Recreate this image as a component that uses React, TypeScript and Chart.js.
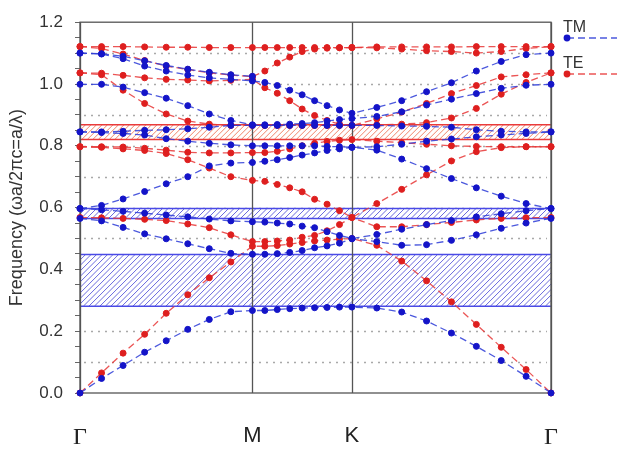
import React, { useEffect, useRef } from 'react';
import { Chart, registerables } from 'chart.js';

Chart.register(...registerables);

// k-path positions (Γ → M → K → Γ, hexagonal lattice, units of 2π/a)
const kPath = [
  0, 0.0722, 0.1443, 0.2165, 0.2887, 0.3609, 0.433, 0.5052, 0.5774,
  0.619, 0.6607, 0.7024, 0.744, 0.7857, 0.8274, 0.869, 0.9107,
  0.994, 1.0774, 1.1607, 1.244, 1.3274, 1.4107, 1.494, 1.5774,
];
const symLabels = ['Γ', 'M', 'K', 'Γ'];
const symPos = [0, 0.5774, 0.9107, 1.5774];
const yGridLines = [0.1, 0.2, 0.3, 0.4, 0.5, 0.6, 0.7, 0.8, 0.9, 1.0, 1.1];

// TM bands (blue)
const tm1 = [0, 0.047, 0.089, 0.132, 0.169, 0.206, 0.238, 0.263, 0.267, 0.267, 0.27, 0.273, 0.275, 0.276, 0.277, 0.278, 0.278, 0.275, 0.262, 0.233, 0.194, 0.151, 0.105, 0.054, 0];
const tm2 = [0.565, 0.557, 0.536, 0.515, 0.499, 0.483, 0.467, 0.452, 0.449, 0.449, 0.451, 0.455, 0.461, 0.47, 0.476, 0.485, 0.499, 0.49, 0.478, 0.48, 0.494, 0.512, 0.533, 0.55, 0.565];
const tm3 = [0.597, 0.593, 0.588, 0.582, 0.576, 0.57, 0.563, 0.557, 0.554, 0.553, 0.55, 0.547, 0.54, 0.535, 0.522, 0.51, 0.5, 0.513, 0.53, 0.545, 0.558, 0.57, 0.58, 0.59, 0.597];
const tm4 = [0.597, 0.607, 0.628, 0.652, 0.677, 0.7, 0.735, 0.744, 0.746, 0.75, 0.755, 0.762, 0.77, 0.777, 0.785, 0.79, 0.795, 0.786, 0.757, 0.726, 0.694, 0.664, 0.637, 0.613, 0.597];
const tm5 = [0.845, 0.843, 0.84, 0.835, 0.823, 0.815, 0.808, 0.803, 0.8, 0.8, 0.8, 0.8, 0.8, 0.8, 0.798, 0.797, 0.795, 0.797, 0.805, 0.815, 0.822, 0.829, 0.835, 0.84, 0.845];
const tm6 = [0.845, 0.845, 0.847, 0.85, 0.852, 0.855, 0.86, 0.866, 0.866, 0.866, 0.866, 0.866, 0.866, 0.866, 0.866, 0.866, 0.866, 0.866, 0.864, 0.863, 0.86, 0.852, 0.847, 0.845, 0.845];
const tm7 = [0.999, 0.999, 0.99, 0.972, 0.954, 0.93, 0.903, 0.882, 0.868, 0.868, 0.869, 0.87, 0.872, 0.875, 0.88, 0.885, 0.888, 0.895, 0.91, 0.932, 0.951, 0.969, 0.986, 0.996, 0.999];
const tm8 = [1.1, 1.097, 1.082, 1.058, 1.042, 1.029, 1.02, 1.015, 1.01, 1.005, 0.995, 0.98, 0.965, 0.946, 0.93, 0.916, 0.905, 0.924, 0.946, 0.975, 1.004, 1.042, 1.073, 1.095, 1.1];
const tm9 = [1.1, 1.098, 1.09, 1.075, 1.06, 1.048, 1.038, 1.03, 1.025, null, null, null, null, null, null, null, null, null, null, null, null, null, null, null, null];

// TE bands (red)
const te1 = [0, 0.065, 0.129, 0.19, 0.258, 0.318, 0.373, 0.424, 0.475, 0.475, 0.477, 0.482, 0.487, 0.492, 0.495, 0.498, 0.5, 0.478, 0.427, 0.363, 0.295, 0.222, 0.148, 0.076, 0];
const te2 = [0.568, 0.567, 0.565, 0.562, 0.558, 0.547, 0.535, 0.512, 0.49, 0.49, 0.492, 0.495, 0.504, 0.51, 0.525, 0.545, 0.568, 0.538, 0.538, 0.545, 0.552, 0.56, 0.565, 0.567, 0.568];
const te3 = [0.797, 0.795, 0.79, 0.785, 0.775, 0.755, 0.728, 0.7, 0.688, 0.685, 0.675, 0.664, 0.651, 0.627, 0.611, 0.59, 0.568, 0.613, 0.659, 0.706, 0.751, 0.781, 0.794, 0.797, 0.797];
const te4 = [0.797, 0.797, 0.796, 0.792, 0.786, 0.779, 0.777, 0.777, 0.778, 0.778, 0.782, 0.79, 0.8, 0.808, 0.814, 0.818, 0.82, 0.815, 0.81, 0.805, 0.8, 0.798, 0.797, 0.797, 0.797];
const te5 = [1.036, 1.03, 0.98, 0.937, 0.903, 0.88, 0.87, 0.866, 0.866, 0.866, 0.866, 0.866, 0.866, 0.866, 0.866, 0.866, 0.866, 0.868, 0.87, 0.875, 0.89, 0.921, 0.967, 1.005, 1.036];
const te6 = [1.036, 1.035, 1.028, 1.02, 1.015, 1.013, 1.01, 1.012, 1.015, 0.988, 0.97, 0.946, 0.919, 0.898, 0.882, 0.87, 0.866, 0.887, 0.909, 0.937, 0.969, 0.995, 1.023, 1.03, 1.036];
const te7 = [1.121, 1.115, 1.097, 1.076, 1.058, 1.047, 1.036, 1.029, 1.024, 1.042, 1.068, 1.087, 1.105, 1.113, 1.116, 1.117, 1.118, 1.12, 1.12, 1.12, 1.12, 1.121, 1.121, 1.121, 1.121];
const te8 = [1.121, 1.121, 1.121, 1.12, 1.119, 1.119, 1.118, 1.118, 1.118, 1.118, 1.118, 1.118, 1.118, 1.118, 1.118, 1.118, 1.118, 1.117, 1.113, 1.108, 1.105, 1.1, 1.105, 1.115, 1.121];

const tmBands = [tm1, tm2, tm3, tm4, tm5, tm6, tm7, tm8, tm9];
const teBands = [te1, te2, te3, te4, te5, te6, te7, te8];

// photonic band gaps
const tmGapLow = [0.281, 0.565];
const tmGapHigh = [0.448, 0.597];
const teGapLow = [0.82];
const teGapHigh = [0.868];

const legendNames = ['TM', 'TE'];

const SANS = '"Liberation Sans", Arial, sans-serif';
const SERIF = '"Liberation Serif", "DejaVu Serif", serif';

const TM_LINE = 'rgba(45,60,215,0.85)';
const TM_POINT = '#1414c8';
const TE_LINE = 'rgba(232,55,55,0.85)';
const TE_POINT = '#de1f1f';

const bandPlugin = {
  id: 'bandGaps',
  beforeDatasetsDraw(chart: any) {
    const { ctx, chartArea: a, scales } = chart;
    const x = scales.x;
    const y = scales.y;
    ctx.save();
    // dotted grid
    ctx.strokeStyle = '#a9a9a9';
    ctx.lineWidth = 1.3;
    ctx.setLineDash([2, 5]);
    for (const v of yGridLines) {
      const py = Math.round(y.getPixelForValue(v)) + 0.5;
      ctx.beginPath();
      ctx.moveTo(a.left + 4, py);
      ctx.lineTo(a.right - 4, py);
      ctx.stroke();
    }
    ctx.setLineDash([]);

    const drawGap = (lo: number, hi: number, hatch: string, edge: string) => {
      const y1 = y.getPixelForValue(hi);
      const y2 = y.getPixelForValue(lo);
      const h = y2 - y1;
      ctx.fillStyle = '#ffffff';
      ctx.fillRect(a.left, y1, a.width, h);
      ctx.save();
      ctx.beginPath();
      ctx.rect(a.left, y1, a.width, h);
      ctx.clip();
      ctx.strokeStyle = hatch;
      ctx.lineWidth = 1;
      ctx.beginPath();
      for (let x0 = a.left - h; x0 < a.right + 6; x0 += 5.5) {
        ctx.moveTo(x0, y2);
        ctx.lineTo(x0 + h, y1);
      }
      ctx.stroke();
      ctx.restore();
      ctx.strokeStyle = edge;
      ctx.lineWidth = 1.5;
      ctx.beginPath();
      ctx.moveTo(a.left, y1);
      ctx.lineTo(a.right, y1);
      ctx.moveTo(a.left, y2);
      ctx.lineTo(a.right, y2);
      ctx.stroke();
    };
    tmGapLow.forEach((lo, i) => drawGap(lo, tmGapHigh[i], 'rgba(80,80,215,0.85)', '#4a4ae6'));
    teGapLow.forEach((lo, i) => drawGap(lo, teGapHigh[i], 'rgba(238,120,90,0.9)', '#ea3b3b'));

    // symmetry point lines and frame
    ctx.strokeStyle = '#555555';
    ctx.lineWidth = 1.3;
    for (const v of symPos) {
      const px = Math.round(x.getPixelForValue(v)) + 0.5;
      ctx.beginPath();
      ctx.moveTo(px, a.top);
      ctx.lineTo(px, a.bottom);
      ctx.stroke();
    }
    ctx.strokeRect(a.left, a.top, a.width, a.height);
    ctx.restore();
  },
};

const legendPlugin = {
  id: 'bandLegend',
  afterDraw(chart: any) {
    const { ctx } = chart;
    ctx.save();
    const rows = [
      { name: legendNames[0], line: TM_LINE, point: TM_POINT, ty: 32, ly: 38 },
      { name: legendNames[1], line: TE_LINE, point: TE_POINT, ty: 68, ly: 74 },
    ];
    for (const r of rows) {
      ctx.fillStyle = '#333333';
      ctx.font = `16px ${SANS}`;
      ctx.textAlign = 'left';
      ctx.textBaseline = 'alphabetic';
      ctx.fillText(r.name, 563, r.ty);
      ctx.strokeStyle = r.line;
      ctx.lineWidth = 1.4;
      ctx.setLineDash([7, 4]);
      ctx.beginPath();
      ctx.moveTo(567, r.ly);
      ctx.lineTo(625, r.ly);
      ctx.stroke();
      ctx.setLineDash([]);
      ctx.fillStyle = r.point;
      ctx.beginPath();
      ctx.arc(567, r.ly, 3.4, 0, Math.PI * 2);
      ctx.fill();
    }
    ctx.restore();
  },
};

function makeDataset(band: (number | null)[], line: string, point: string) {
  return {
    data: kPath.map((k, i) => ({ x: k, y: band[i] })),
    borderColor: line,
    backgroundColor: point,
    pointBackgroundColor: point,
    pointBorderColor: point,
    pointBorderWidth: 1,
    pointRadius: 3,
    pointHoverRadius: 3,
    borderWidth: 1.3,
    borderDash: [7, 4],
    tension: 0,
    fill: false,
    clip: false as any,
    spanGaps: false,
  };
}

export default function App() {
  const ref = useRef<HTMLCanvasElement>(null);

  useEffect(() => {
    document.body.style.margin = '0';
    const canvas = ref.current!;
    const datasets = [
      ...tmBands.map((b) => makeDataset(b, TM_LINE, TM_POINT)),
      ...teBands.map((b) => makeDataset(b, TE_LINE, TE_POINT)),
    ];
    const chart = new Chart(canvas, {
      type: 'line',
      data: { datasets },
      options: {
        responsive: false,
        maintainAspectRatio: false,
        animation: false,
        devicePixelRatio: 1,
        layout: { padding: { top: 17, right: 66, left: 0, bottom: 0 } },
        plugins: {
          legend: { display: false },
          tooltip: { enabled: false },
        },
        scales: {
          x: {
            type: 'linear',
            min: 0,
            max: 1.5774,
            afterFit: (s: any) => {
              s.height = 56;
            },
            afterBuildTicks: (s: any) => {
              s.ticks = symPos.map((v) => ({ value: v }));
            },
            ticks: {
              autoSkip: false,
              maxRotation: 0,
              padding: 30,
              color: '#222222',
              font: (c: any) =>
                c.index === 0 || c.index === 3
                  ? { family: SERIF, size: 24 }
                  : { family: SANS, size: 22 },
              callback: (_v: any, i: number) => symLabels[i],
            },
            grid: { drawOnChartArea: false, drawTicks: false },
            border: { display: false },
          },
          y: {
            type: 'linear',
            min: 0,
            max: 1.2,
            afterFit: (s: any) => {
              s.width = 80;
            },
            ticks: {
              stepSize: 0.05,
              autoSkip: false,
              padding: 12,
              color: '#333333',
              font: { family: SANS, size: 17 },
              callback: (v: any) => {
                const n = Number(v);
                return Math.abs(n * 5 - Math.round(n * 5)) < 1e-6 ? n.toFixed(1) : '';
              },
            },
            grid: {
              drawOnChartArea: false,
              drawTicks: true,
              tickLength: 5,
              tickColor: '#666666',
            },
            border: { display: false },
            title: {
              display: true,
              text: 'Frequency (ωa/2πc=a/λ)',
              color: '#333333',
              font: { family: SANS, size: 18 },
              padding: { top: 6, bottom: 0 },
            },
          },
        },
      },
      plugins: [bandPlugin, legendPlugin],
    } as any);
    return () => chart.destroy();
  }, []);

  return (
    <div style={{ width: 617, height: 449 }}>
      <canvas ref={ref} width={617} height={449} style={{ display: 'block' }} />
    </div>
  );
}
